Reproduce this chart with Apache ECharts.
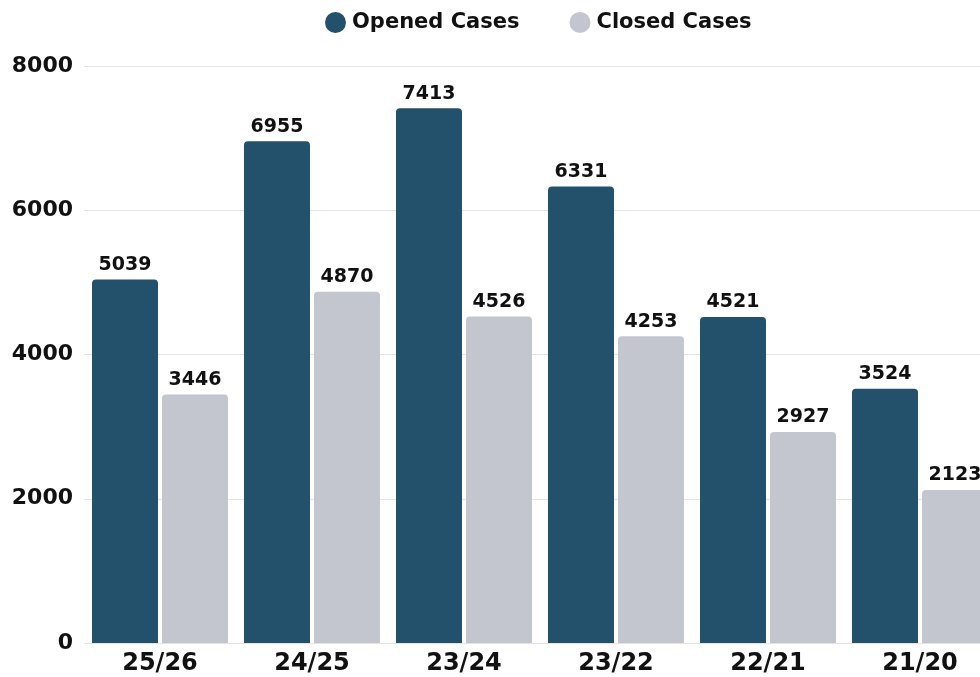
<!DOCTYPE html>
<html>
<head>
<meta charset="utf-8">
<script src="https://cdn.jsdelivr.net/npm/echarts@6/dist/echarts.min.js"></script>
<style>
html,body{margin:0;padding:0;overflow:hidden;background:#fff;}
#c{width:1000px;height:677px;}
</style>
</head>
<body>
<div id="c"></div>
<script>
const categories = ['25/26', '24/25', '23/24', '23/22', '22/21', '21/20'];
const openedCases = [5039, 6955, 7413, 6331, 4521, 3524];
const closedCases = [3446, 4870, 4526, 4253, 2927, 2123];
const yTicks = [0, 2000, 4000, 6000, 8000];

const FONT = 'DejaVu Sans';
const chart = echarts.init(document.getElementById('c'), null, {renderer: 'canvas'});
const labelCfg = {
  show: true, position: 'top', distance: 5,
  fontFamily: FONT, fontWeight: 'bold', fontSize: 19, color: '#111'
};
chart.setOption({
  animation: false,
  legend: {
    left: 320, top: 7,
    icon: 'circle', itemWidth: 21, itemHeight: 21, itemGap: 50,
    textStyle: {fontFamily: FONT, fontWeight: 'bold', fontSize: 21, color: '#111', padding: [0, 0, 0, 1]},
    data: ['Opened Cases', 'Closed Cases']
  },
  grid: {left: 84, right: 4, top: 66, bottom: 34},
  xAxis: {
    type: 'category', data: categories,
    axisLine: {show: false}, axisTick: {show: false},
    axisLabel: {fontFamily: FONT, fontWeight: 'bold', fontSize: 24, color: '#111', margin: 9}
  },
  yAxis: {
    type: 'value', min: yTicks[0], max: yTicks[yTicks.length - 1], interval: yTicks[1] - yTicks[0],
    axisLine: {show: false}, axisTick: {show: false},
    axisLabel: {fontFamily: FONT, fontWeight: 'bold', fontSize: 22, color: '#111', margin: 11,
      formatter: v => String(v)},
    splitLine: {lineStyle: {color: '#e4e4e4', width: 1}}
  },
  series: [
    {
      name: 'Opened Cases', type: 'bar', data: openedCases,
      barGap: '6%', barCategoryGap: '10.5%',
      itemStyle: {color: '#23506b', borderRadius: [4, 4, 0, 0]},
      label: labelCfg
    },
    {
      name: 'Closed Cases', type: 'bar', data: closedCases,
      itemStyle: {color: '#c4c6cf', borderRadius: [4, 4, 0, 0]},
      label: labelCfg
    }
  ]
});
</script>
</body>
</html>
